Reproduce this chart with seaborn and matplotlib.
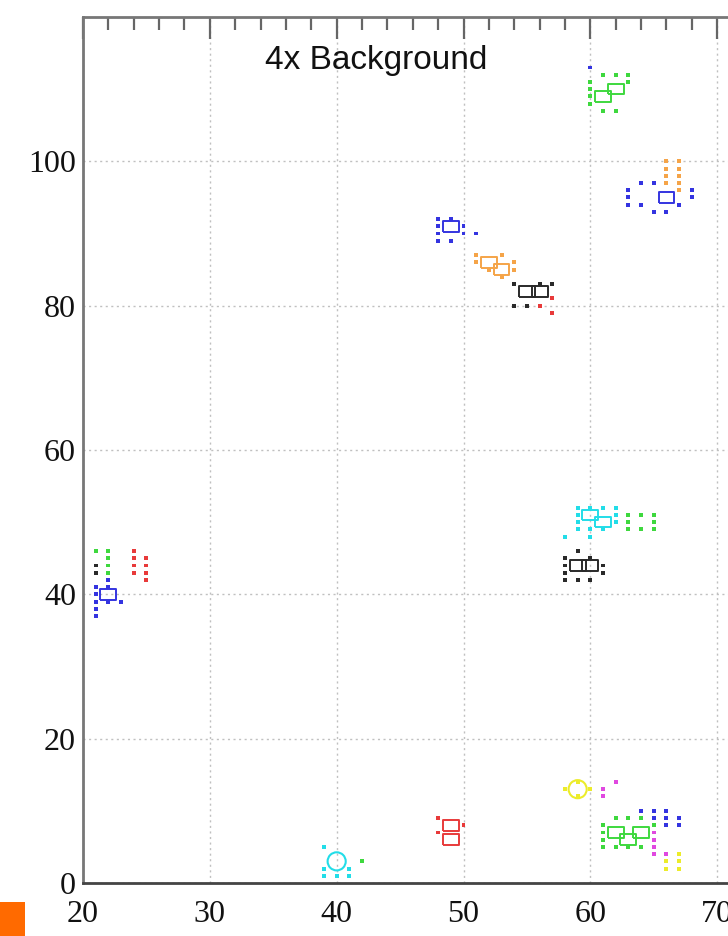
import numpy as np
import pandas as pd
import matplotlib
matplotlib.use("Agg")
import matplotlib.pyplot as plt
from matplotlib.patches import Rectangle
from matplotlib.ticker import MultipleLocator, FuncFormatter
import seaborn as sns

# ---- detections: small dots per source colour ----
blue_x = [60, 61, 63, 63, 63, 64, 64, 65, 65, 66, 67, 67, 67, 68, 68,
          48, 48, 48, 48, 49, 49, 50, 50, 51,
          21, 21, 21, 21, 21, 22, 22, 22, 23,
          64, 64, 65, 65, 65, 66, 66, 66, 67, 67]
blue_y = [113, 112, 96, 95, 94, 97, 94, 97, 93, 93, 97, 96, 94, 95, 96,
          92, 91, 90, 89, 92, 89, 91, 90, 90,
          41, 40, 39, 38, 37, 42, 41, 39, 39,
          10, 9, 10, 9, 8, 10, 9, 8, 9, 8]

green_x = [60, 60, 60, 60, 61, 61, 62, 62, 63, 63,
           21, 22, 22, 22, 22,
           63, 63, 63, 64, 64, 65, 65, 65,
           61, 61, 61, 61, 62, 63, 64, 65, 65, 65, 62, 63, 64,
           42]
green_y = [111, 110, 109, 108, 112, 107, 107, 112, 112, 111,
           46, 46, 45, 44, 43,
           51, 50, 49, 51, 49, 51, 50, 49,
           8, 7, 6, 5, 9, 9, 9, 8, 7, 6, 5, 5, 5,
           3]

orange_x = [66, 66, 66, 66, 67, 67, 67, 67, 67,
            51, 51, 52, 53, 53, 54, 54]
orange_y = [100, 99, 98, 97, 100, 99, 98, 97, 96,
            87, 86, 85, 87, 84, 86, 85]

black_x = [54, 54, 55, 56, 57,
           21, 21,
           59, 58, 58, 58, 58, 59, 60, 60, 61, 61]
black_y = [83, 80, 80, 83, 83,
           44, 43,
           46, 45, 44, 43, 42, 42, 42, 45, 44, 43]

red_x = [57, 56, 57,
         24, 24, 24, 24, 25, 25, 25, 25,
         48, 48, 50]
red_y = [81, 80, 79,
         46, 45, 44, 43, 45, 44, 43, 42,
         9, 7, 8]

cyan_x = [39, 39, 39, 40, 41, 41,
          58, 59, 59, 59, 59, 60, 60, 60, 61, 62, 62, 62, 61]
cyan_y = [5, 2, 1, 1, 2, 1,
          48, 52, 51, 50, 49, 52, 49, 48, 52, 52, 51, 50, 49]

yellow_x = [58, 60, 59, 59, 66, 66, 67, 67, 67]
yellow_y = [13, 13, 14, 12, 3, 2, 4, 3, 2]

magenta_x = [61, 61, 62, 65, 65, 65, 65, 66]
magenta_y = [13, 12, 14, 7, 6, 5, 4, 4]

# ---- source centres: hollow outlines ----
ring_x = [61, 62, 66, 49, 52, 53, 55, 56, 22, 60, 61, 59, 60, 62, 63, 64, 49, 49]
ring_y = [109, 110, 95, 91, 86, 85, 82, 82, 40, 51, 50, 44, 44, 7, 6, 7, 8, 6]
ring_group = ["green", "green", "blue", "blue", "orange", "orange", "black", "black",
              "blue", "cyan", "cyan", "black", "black", "green", "green", "green",
              "red", "red"]

circle_x = [59, 40]
circle_y = [13, 3]
circle_group = ["yellow", "cyan"]

palette = {
    "blue": "#3434e0",
    "green": "#3ed83e",
    "orange": "#f5a448",
    "black": "#2a2a2a",
    "red": "#e83a3a",
    "cyan": "#22dde8",
    "yellow": "#ecec2a",
    "magenta": "#e048e0",
}

dot_sets = {
    "blue": (blue_x, blue_y),
    "green": (green_x, green_y),
    "orange": (orange_x, orange_y),
    "black": (black_x, black_y),
    "red": (red_x, red_y),
    "cyan": (cyan_x, cyan_y),
    "yellow": (yellow_x, yellow_y),
    "magenta": (magenta_x, magenta_y),
}
dots = pd.concat(
    [pd.DataFrame({"x": xs, "y": ys, "group": g}) for g, (xs, ys) in dot_sets.items()],
    ignore_index=True,
)
rings = pd.DataFrame({"x": ring_x, "y": ring_y, "group": ring_group})
circles = pd.DataFrame({"x": circle_x, "y": circle_y, "group": circle_group})

sns.set_style("white")
plt.rcParams["font.family"] = ["Liberation Serif", "DejaVu Serif"]

fig = plt.figure(figsize=(7.28, 9.36), dpi=100)
W, H = 728, 936
ax = fig.add_axes([83 / W, 53 / H, 761 / W, 866 / H])

sns.scatterplot(data=dots, x="x", y="y", hue="group", palette=palette,
                marker="s", s=8, linewidth=0, legend=False, ax=ax, zorder=3)


def hollow(collection, lw):
    fc = collection.get_facecolors()
    collection.set_edgecolors(fc)
    collection.set_facecolors("none")
    collection.set_linewidths(lw)


rect_marker = [(-1.5, -1.0), (1.5, -1.0), (1.5, 1.0), (-1.5, 1.0), (-1.5, -1.0)]
sns.scatterplot(data=rings, x="x", y="y", hue="group", palette=palette,
                marker=rect_marker, s=130, legend=False, ax=ax, zorder=4)
hollow(ax.collections[-1], 1.4)

sns.scatterplot(data=circles, x="x", y="y", hue="group", palette=palette,
                marker="o", s=170, legend=False, ax=ax, zorder=4)
hollow(ax.collections[-1], 1.5)

ax.set_xlim(20, 80)
ax.set_ylim(0, 120)
ax.set_xlabel("")
ax.set_ylabel("")

ax.xaxis.set_major_locator(MultipleLocator(10))
ax.xaxis.set_minor_locator(MultipleLocator(2))
ax.yaxis.set_major_locator(MultipleLocator(20))
ax.yaxis.set_minor_locator(MultipleLocator(5))
ax.yaxis.set_major_formatter(FuncFormatter(lambda v, _: "" if v >= 120 else f"{v:g}"))

ax.grid(True, which="major", linestyle=(0, (1.5, 2.5)), color="#c0c0c0", linewidth=1.0)
ax.set_axisbelow(True)

ax.tick_params(which="both", direction="in", top=True, right=True,
               color="#666666", width=1.6)
ax.tick_params(which="major", length=16, labelsize=23, labelcolor="#111111")
ax.tick_params(which="minor", length=9)
ax.tick_params(axis="x", which="major", pad=12)
ax.tick_params(axis="y", which="major", pad=5)

for side, sp in ax.spines.items():
    sp.set_color("#777777")
    sp.set_linewidth(2.0)
ax.spines["bottom"].set_color("#444444")

fig.text(376 / W, 1 - 60 / H, "4x Background", ha="center", va="center",
         fontsize=24, family=["Liberation Sans", "DejaVu Sans"], color="#111111")

fig.patches.append(Rectangle((0, 0), 25 / W, 34 / H, transform=fig.transFigure,
                             facecolor="#ff6a00", edgecolor="none", figure=fig))

fig.savefig("out.png", dpi=100)
